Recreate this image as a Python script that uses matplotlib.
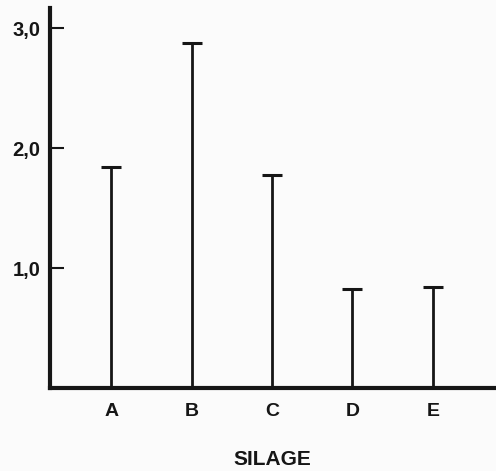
import numpy as np
import matplotlib
matplotlib.use("Agg")
import matplotlib.pyplot as plt

# data
categories = ["A", "B", "C", "D", "E"]
values = [1.84, 2.88, 1.78, 0.83, 0.84]
yticks = [1.0, 2.0, 3.0]
yticklabels = ["1,0", "2,0", "3,0"]

ink = "#161616"
plt.rcParams['font.family'] = ['Liberation Sans', 'DejaVu Sans']

fig = plt.figure(figsize=(4.96, 4.71), dpi=100)
fig.patch.set_facecolor("#fbfbfb")
ax = fig.add_axes([0.101, 0.176, 0.895, 0.807])
ax.set_facecolor("#fbfbfb")

x = np.arange(len(categories))
ax.vlines(x, 0, values, color=ink, linewidth=2)
ax.plot(x, values, linestyle="none", marker="_", markersize=14,
        markeredgewidth=2.2, color=ink)

ax.set_xlim(-0.76, 4.76)
ax.set_ylim(0, 3.17)

for side in ["top", "right"]:
    ax.spines[side].set_visible(False)
for side in ["left", "bottom"]:
    ax.spines[side].set_linewidth(3)
    ax.spines[side].set_color(ink)

ax.set_xticks(x)
ax.set_xticklabels(categories, fontsize=14, fontweight="bold", color=ink)
ax.tick_params(axis="x", length=0, pad=10.5)

ax.set_yticks(yticks)
ax.set_yticklabels(yticklabels, fontsize=14.5, fontweight="bold", color=ink)
ax.tick_params(axis="y", direction="in", length=10, width=1.5, color=ink, pad=7)

ax.set_xlabel("SILAGE", fontsize=15, fontweight="bold", color=ink, labelpad=22)

fig.savefig("out.png", dpi=100, facecolor=fig.get_facecolor())
